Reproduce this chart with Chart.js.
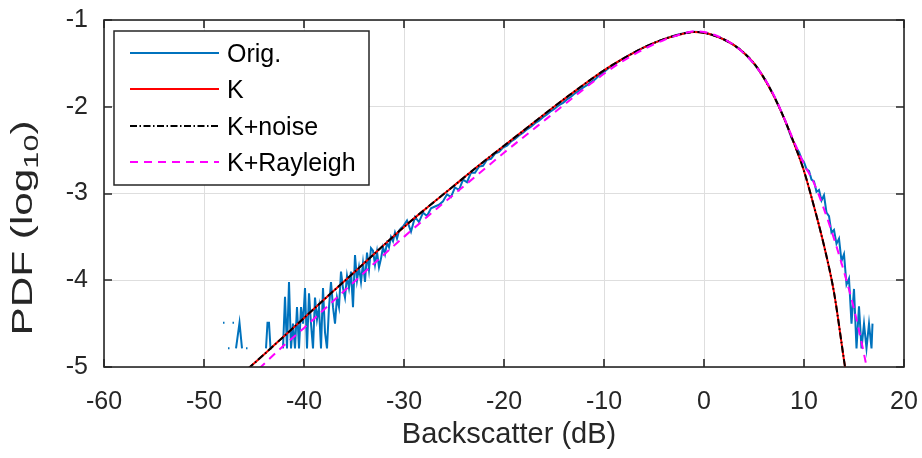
<!DOCTYPE html>
<html>
<head>
<meta charset="utf-8">
<script src="https://cdn.jsdelivr.net/npm/chart.js@4.4.0/dist/chart.umd.min.js"></script>
<style>
  html, body { margin: 0; padding: 0; background: #fff; }
  #wrap { width: 922px; height: 458px; }
</style>
</head>
<body>
<div id="wrap"><canvas id="pdfChart" width="922" height="458"></canvas></div>
<script>
// Measured histogram (log10 of PDF), null = empty bin
const origDb = [
  -48.1, -47.95, -47.8, -47.6, -47.45, -47.3, -47.15, -47.0, -46.9, -46.8, -46.45, -46.2, -46.05,
  -45.8, -45.65, -45.5, -43.8, -43.65, -43.5, -43.35, -43.2, -43.0,
  -42.1, -41.9, -41.7, -41.5, -41.3, -41.1, -40.9, -40.7, -40.5, -40.3, -40.1, -39.9, -39.7, -39.5,
  -39.3, -39.1, -38.9, -38.7, -38.5, -38.3, -38.1, -37.9, -37.7, -37.5, -37.3, -37.1, -36.9, -36.7,
  -36.5, -36.3, -36.1, -35.9, -35.7, -35.5, -35.3, -35.1, -34.9, -34.7, -34.5, -34.3, -34.1, -33.9,
  -33.7, -33.5, -33.3, -33.1, -32.9, -32.7, -32.5, -32.3, -32.1, -31.9, -31.7, -31.5, -31.3, -31.1,
  -30.9, -30.7, -30.5, -30.3, -30.1,
  -29.7, -29.3, -28.9, -28.5, -28.1, -27.7, -27.3, -26.9, -26.5, -26.1, -25.7, -25.3, -24.9, -24.5,
  -24.1, -23.7, -23.3, -22.9, -22.5, -22.1, -21.7, -21.3, -20.9, -20.5, -20.1, -19.7, -19.3, -18.9,
  -18.5, -18.1, -17.7, -17.3, -16.9, -16.5, -16.1, -15.7, -15.3, -14.9, -14.5, -14.1, -13.7, -13.3,
  -12.9, -12.5, -12.1, -11.7, -11.3, -10.9, -10.5, -10.1,
  -9.5, -9, -8.5, -8, -7.5, -7, -6.5, -6, -5.5, -5, -4.5, -4, -3.5, -3, -2.5, -2, -1.5, -1, -0.5,
  0, 0.5, 1, 1.5, 2, 2.5, 3, 3.5, 4, 4.5, 5, 5.5, 6, 6.5, 7, 7.5, 8,
  8.25, 8.5, 8.75, 9, 9.25, 9.5, 9.75, 10, 10.25, 10.5, 10.75, 11, 11.25, 11.5, 11.75, 12, 12.25,
  12.5, 12.75, 13, 13.25, 13.5, 13.75, 14, 14.25, 14.5, 14.75, 15, 15.25, 15.5, 15.75, 16, 16.25,
  16.5, 16.6, 16.75, 16.85
];
const origLog = [
  -4.49, -4.49, null, -4.785, -4.785, null, -4.49, -4.49, null, -4.785, -4.49, -4.785, null,
  -4.785, -4.785, null, -4.785, -4.49, -4.49, -4.785, -4.785, null,
  -4.785, -4.19, -4.785, -4.02, -4.785, -4.5, -4.785, -4.31, -4.785, -4.31, -4.5, -4.09, -4.785, -4.15,
  -4.5, -4.785, -4.2, -4.45, -4.31, -4.785, -4.09, -4.6, -4.785, -4.31, -4.02, -4.31, -4.5, -4.2,
  -4.31, -3.9, -4.09, -4.2, -3.95, -4.09, -3.9, -4.31, -3.71, -4.0, -3.85, -4.02, -3.8, -4.02,
  -3.68, -3.88, -3.63, -3.66, -3.82, -3.67, -3.85, -3.75, -3.62, -3.7, -3.57, -3.62, -3.5, -3.55,
  -3.45, -3.52, -3.43, -3.4, -3.38,
  -3.31, -3.44, -3.27, -3.33, -3.22, -3.26, -3.17, -3.15, -3.13, -3.09, -3.01, -3.04, -2.93, -2.96,
  -2.84, -2.87, -2.76, -2.76, -2.69, -2.68, -2.61, -2.6, -2.54, -2.52, -2.47, -2.45, -2.4, -2.37,
  -2.33, -2.3, -2.26, -2.23, -2.19, -2.16, -2.12, -2.09, -2.05, -2.02, -1.98, -1.955, -1.915, -1.885,
  -1.845, -1.815, -1.78, -1.75, -1.715, -1.685, -1.64, -1.61,
  -1.55, -1.515, -1.475, -1.44, -1.405, -1.375, -1.345, -1.315, -1.29, -1.265, -1.24, -1.22, -1.2, -1.18, -1.165, -1.152, -1.14, -1.135, -1.138,
  -1.148, -1.162, -1.178, -1.2, -1.225, -1.255, -1.29, -1.33, -1.38, -1.44, -1.505, -1.58, -1.665, -1.765, -1.875, -2.0, -2.13,
  -2.2, -2.28, -2.36, -2.42, -2.48, -2.52, -2.6, -2.64, -2.72, -2.74, -2.84, -2.86, -2.98, -2.96, -3.08, -3.02, -3.22,
  -3.26, -3.45, -3.42, -3.58, -3.52, -3.78, -3.7, -4.05, -3.98, -4.5, -4.1, -4.785, -4.3, -4.785, -4.5, -4.785,
  -4.5, -4.5, -4.785, -4.5
];

// Fitted models
const kDb = [-45.6, -44, -42, -40, -37.5, -35, -32.5, -30, -27.5, -25, -22.5, -20, -17.5, -15, -12.5, -10,
  -8, -6, -4, -2, -1, 0, 1, 2, 3, 4, 5, 6, 7, 8, 9, 10, 11, 12, 13, 14, 14.3];
const kLog = [-5.02, -4.855, -4.645, -4.435, -4.17, -3.91, -3.645, -3.385, -3.145, -2.91, -2.675, -2.45, -2.225, -2.0, -1.785, -1.58,
  -1.44, -1.315, -1.22, -1.155, -1.138, -1.148, -1.178, -1.225, -1.29, -1.38, -1.5, -1.67, -1.88, -2.13, -2.42, -2.74, -3.15, -3.6, -4.14, -4.92, -5.15];
const kNoiseLog = [-5.02, -4.855, -4.645, -4.435, -4.17, -3.91, -3.645, -3.385, -3.145, -2.91, -2.675, -2.45, -2.225, -2.0, -1.785, -1.58,
  -1.44, -1.315, -1.22, -1.155, -1.138, -1.148, -1.178, -1.225, -1.29, -1.38, -1.5, -1.67, -1.88, -2.13, -2.42, -2.74, -3.15, -3.6, -4.14, -4.92, -5.15];
const krDb = [-44.5, -42, -40, -37.5, -35, -32.5, -30, -27.5, -25, -22.5, -20, -17.5, -15, -12.5, -10,
  -8, -6, -4, -2, -1, 0, 1, 2, 3, 4, 5, 6, 7, 8, 9, 10, 11, 12, 13, 14, 15, 16, 16.6];
const krLog = [-5.02, -4.75, -4.55, -4.285, -4.02, -3.755, -3.5, -3.25, -3.01, -2.77, -2.53, -2.3, -2.07, -1.84, -1.62,
  -1.465, -1.335, -1.23, -1.155, -1.13, -1.138, -1.17, -1.22, -1.29, -1.385, -1.505, -1.665, -1.87, -2.125, -2.4, -2.66, -2.88, -3.18, -3.52, -3.9, -4.33, -4.85, -5.2];

const xTicks = [-60, -50, -40, -30, -20, -10, 0, 10, 20];
const yTicks = [-5, -4, -3, -2, -1];

const FONT = '"Liberation Sans", Arial, Helvetica, sans-serif';
const AXIS_COLOR = '#262626';

const pts = (xs, ys) => xs.map((x, i) => ({ x: x, y: ys[i] }));

// box, inward ticks, legend and axis titles
const frame = {
  id: 'frame',
  afterDraw(chart) {
    const { ctx, chartArea: a, scales } = chart;
    const sx = scales.x, sy = scales.y;
    ctx.save();
    ctx.strokeStyle = AXIS_COLOR;
    ctx.lineWidth = 1.6;
    ctx.strokeRect(a.left, a.top, a.right - a.left, a.bottom - a.top);
    ctx.beginPath();
    xTicks.forEach(v => {
      const p = Math.round(sx.getPixelForValue(v));
      ctx.moveTo(p, a.bottom); ctx.lineTo(p, a.bottom - 8);
      ctx.moveTo(p, a.top); ctx.lineTo(p, a.top + 8);
    });
    yTicks.forEach(v => {
      const p = Math.round(sy.getPixelForValue(v));
      ctx.moveTo(a.left, p); ctx.lineTo(a.left + 8, p);
      ctx.moveTo(a.right, p); ctx.lineTo(a.right - 8, p);
    });
    ctx.stroke();

    // legend
    const lx = 114, ly = 31, lw = 255, lh = 154;
    ctx.fillStyle = '#fff';
    ctx.fillRect(lx, ly, lw, lh);
    ctx.lineWidth = 1.5;
    ctx.strokeStyle = AXIS_COLOR;
    ctx.strokeRect(lx, ly, lw, lh);
    const rows = [53, 89, 126, 162];
    chart.data.datasets.forEach((ds, i) => {
      const yy = rows[i];
      ctx.save();
      ctx.strokeStyle = ds.borderColor;
      ctx.lineWidth = ds.borderWidth;
      ctx.setLineDash(ds.borderDash || []);
      ctx.beginPath();
      ctx.moveTo(130, yy); ctx.lineTo(219, yy);
      ctx.stroke();
      ctx.restore();
      ctx.fillStyle = '#000';
      ctx.font = '25px ' + FONT;
      ctx.textBaseline = 'alphabetic';
      ctx.textAlign = 'left';
      ctx.fillText(ds.label, 227, yy + 9);
    });

    // x title
    ctx.fillStyle = AXIS_COLOR;
    ctx.font = '29px ' + FONT;
    ctx.textAlign = 'center';
    ctx.textBaseline = 'alphabetic';
    ctx.fillText('Backscatter (dB)', 509, 443);

    // y title with subscript
    ctx.translate(32, 228);
    ctx.rotate(-Math.PI / 2);
    const big = '29px ' + FONT, small = '21px ' + FONT;
    ctx.font = big; const w1 = ctx.measureText('PDF (log').width; const w3 = ctx.measureText(')').width;
    ctx.font = small; const w2 = ctx.measureText('10').width;
    const total = w1 + w2 + w3;
    ctx.scale(215 / total, 1);
    let x0 = -total / 2;
    ctx.textAlign = 'left';
    ctx.font = big; ctx.fillText('PDF (log', x0, 0);
    ctx.font = small; ctx.fillText('10', x0 + w1, 6);
    ctx.font = big; ctx.fillText(')', x0 + w1 + w2, 0);
    ctx.restore();
  }
};

const lineBase = { pointRadius: 0, fill: false, clip: 0, spanGaps: false };

new Chart(document.getElementById('pdfChart').getContext('2d'), {
  type: 'line',
  data: {
    datasets: [
      Object.assign({}, lineBase, { label: 'Orig.', data: pts(origDb, origLog), borderColor: '#0072BD', borderWidth: 2, tension: 0, order: 4 }),
      Object.assign({}, lineBase, { label: 'K', data: pts(kDb, kLog), borderColor: '#FF0000', borderWidth: 2, cubicInterpolationMode: 'monotone', order: 3 }),
      Object.assign({}, lineBase, { label: 'K+noise', data: pts(kDb, kNoiseLog), borderColor: '#000000', borderWidth: 2, borderDash: [7, 2.5, 1.5, 2.5], cubicInterpolationMode: 'monotone', order: 2 }),
      Object.assign({}, lineBase, { label: 'K+Rayleigh', data: pts(krDb, krLog), borderColor: '#FF00FF', borderWidth: 2, borderDash: [8, 6], cubicInterpolationMode: 'monotone', order: 1 })
    ]
  },
  options: {
    responsive: false,
    animation: false,
    devicePixelRatio: 1,
    layout: { padding: { top: 20, right: 18, left: 0, bottom: 0 } },
    plugins: { legend: { display: false }, tooltip: { enabled: false } },
    scales: {
      x: {
        type: 'linear', min: -60, max: 20,
        afterBuildTicks: s => { s.ticks = xTicks.map(v => ({ value: v })); },
        afterFit: s => { s.height = 91; s.paddingLeft = 0; s.paddingRight = 0; },
        grid: { color: '#dedede', lineWidth: 1, drawTicks: false },
        border: { display: false },
        ticks: { color: AXIS_COLOR, font: { family: FONT, size: 25 }, padding: 20, maxRotation: 0 }
      },
      y: {
        type: 'linear', min: -5, max: -1,
        afterBuildTicks: s => { s.ticks = yTicks.map(v => ({ value: v })); },
        afterFit: s => { s.width = 104; s.paddingTop = 0; s.paddingBottom = 0; },
        grid: { color: '#dedede', lineWidth: 1, drawTicks: false },
        border: { display: false },
        ticks: { color: AXIS_COLOR, font: { family: FONT, size: 25 }, padding: 16 }
      }
    }
  },
  plugins: [frame]
});
</script>
</body>
</html>
